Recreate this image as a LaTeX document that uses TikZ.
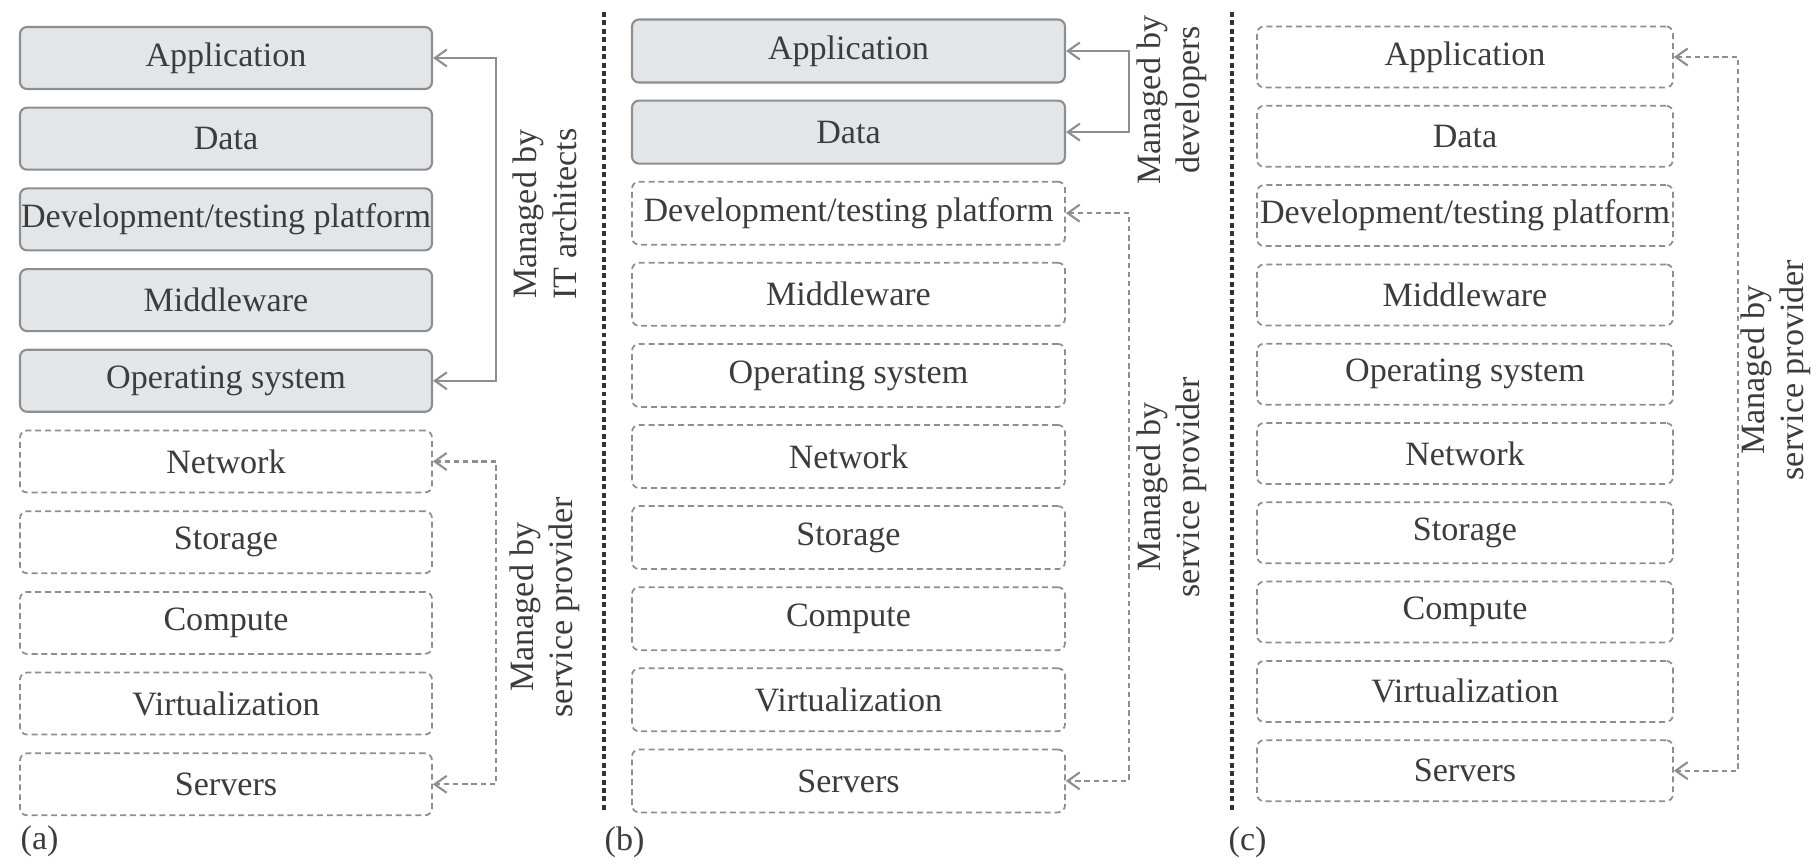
\documentclass[tikz,border=0pt]{standalone}
\usepackage{fontspec}
\setmainfont{Liberation Serif}
\usetikzlibrary{arrows.meta,positioning,calc}

\definecolor{layerfill}{HTML}{E3E6E9}
\definecolor{layerline}{HTML}{8E8E8E}
\definecolor{inkgray}{HTML}{3C3C3C}

\newcommand{\layerlist}{Application,Data,{Development/testing platform},Middleware,Operating system,Network,Storage,Compute,Virtualization,Servers}

\begin{document}
\begin{tikzpicture}[
    layerbox/.style={draw=layerline, rounded corners=2pt, minimum height=0.62cm, inner sep=0pt, line width=0.6pt, font=\fontsize{9.7}{11.5}\selectfont, text=inkgray, fill=#1},
    layerbox/.default=layerfill,
    openbox/.style={layerbox=white, line width=0.5pt, dash pattern=on 1.7pt off 1.1pt},
    cell/.code 2 args={\ifnum#1>#2\relax\tikzset{openbox}\else\tikzset{layerbox}\fi},
    arrow/.style={{Straight Barb[length=1.2mm,width=1.7mm]}-{Straight Barb[length=1.2mm,width=1.7mm]}, draw=layerline, line width=0.6pt},
    darrow/.style={arrow, dash pattern=on 1.5pt off 1.1pt},
    note/.style={rotate=90, align=center, inner sep=0pt, font=\fontsize{9.7}{11.2}\selectfont, text=inkgray},
    tag/.style={anchor=west, inner sep=0pt, font=\fontsize{9.7}{11.5}\selectfont, text=inkgray},
    divider/.style={draw=black!80, line width=0.9pt, dash pattern=on 1.4pt off 1pt},
]
\useasboundingbox (0,0) rectangle (18.18,-8.64);

% (a) upper five layers by IT architects
\foreach \name [count=\i] in \layerlist
  \node[cell={\i}{5}, minimum width=4.12cm] (a\i) at (2.26,{-0.58-0.807*(\i-1)}) {\name};

% (b) upper two layers by developers
\foreach \name [count=\i] in \layerlist
  \node[cell={\i}{2}, minimum width=4.33cm, minimum height=0.63cm] (b\i) at (8.485,{-0.51-0.811*(\i-1)}) {\name};

% (c) everything by the provider
\foreach \name [count=\i] in \layerlist
  \node[cell={\i}{0}, minimum width=4.16cm, minimum height=0.61cm] (c\i) at (14.65,{-0.57-0.793*(\i-1)}) {\name};

\draw[arrow] (a1.east) -- ++(0.63,0) |- (a5.east);
\draw[darrow] (a6.east) -- ++(0.63,0) |- (a10.east);
\draw[arrow] (b1.east) -- ++(0.63,0) |- (b2.east);
\draw[darrow] (b3.east) -- ++(0.63,0) |- (b10.east);
\draw[darrow] (c1.east) -- ++(0.64,0) |- (c10.east);

\node[note] (archA) at (5.45,-2.14) {Managed by\\IT architects};
\node[note] (provA) at (5.45,-6.07) {Managed by\\service provider};
\node[note] (devB) at (11.72,-1.00) {Managed by\\developers};
\node[note] (provB) at (11.72,-4.87) {Managed by\\service provider};
\node[note] (provC) at (17.76,-3.70) {Managed by\\service provider};

\coordinate (cutA) at (6.04,-0.12);
\coordinate (cutB) at (12.32,-0.12);
\draw[divider] (cutA) -- ++(0,-8.0);
\draw[divider] (cutB) -- ++(0,-8.0);

\node[tag] (tagA) at (0.2,-8.41) {(a)};
\node[tag] (tagB) at (6.04,-8.42) {(b)};
\node[tag] (tagC) at (12.28,-8.42) {(c)};
\end{tikzpicture}
\end{document}
